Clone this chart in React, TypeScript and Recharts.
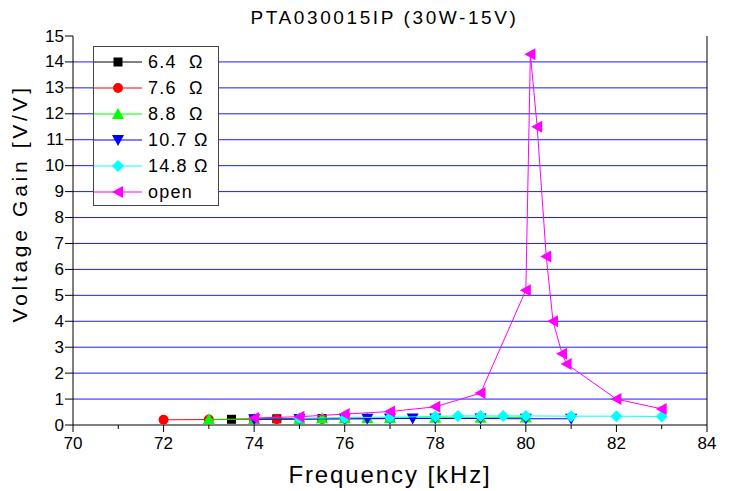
import { ScatterChart, Scatter, XAxis, YAxis, ReferenceLine, Legend } from "recharts";

// measured gain vs frequency, one pair of arrays per load
const freq64 = [73.5, 74, 74.5, 75, 75.5, 76];
const gain64 = [0.22, 0.23, 0.24, 0.24, 0.25, 0.25];

const freq76 = [72, 73, 74, 74.5, 75, 75.5, 76, 77];
const gain76 = [0.2, 0.21, 0.22, 0.22, 0.23, 0.23, 0.24, 0.25];

const freq88 = [73, 74, 75, 75.5, 76, 76.5, 77, 78, 79, 80];
const gain88 = [0.22, 0.23, 0.24, 0.26, 0.26, 0.27, 0.27, 0.28, 0.28, 0.29];

const freq107 = [74, 75, 76, 76.5, 77, 77.5, 78, 79, 80, 81];
const gain107 = [0.22, 0.23, 0.24, 0.24, 0.25, 0.25, 0.25, 0.25, 0.24, 0.24];

const freq148 = [75, 76, 77, 78, 78.5, 79, 79.5, 80, 81, 82, 83];
const gain148 = [0.26, 0.28, 0.3, 0.33, 0.35, 0.35, 0.35, 0.35, 0.34, 0.34, 0.33];

const freqOpen = [74, 75, 76, 77, 78, 79, 80, 80.1, 80.25, 80.45, 80.6, 80.8, 80.9, 82, 83];
const gainOpen = [0.27, 0.32, 0.42, 0.52, 0.7, 1.23, 5.2, 14.3, 11.5, 6.5, 4.0, 2.75, 2.35, 1.0, 0.62];

const xTicks = [70, 71, 72, 73, 74, 75, 76, 77, 78, 79, 80, 81, 82, 83, 84];
const topTicks = [70, 71.4, 72.8, 74.2, 75.6, 77, 78.4, 79.8, 81.2, 82.6, 84];
const yTicks = [0, 0.5, 1, 1.5, 2, 2.5, 3, 3.5, 4, 4.5, 5, 5.5, 6, 6.5, 7, 7.5, 8, 8.5, 9, 9.5, 10, 10.5, 11, 11.5, 12, 12.5, 13, 13.5, 14, 14.5, 15];
const gridLines = [1, 2, 3, 4, 5, 6, 7, 8, 9, 10, 11, 12, 13, 14];

const FONT = '"Liberation Sans", Arial, sans-serif';

const series = [
  { name: "6.4  Ω", color: "#000000", kind: "square", freq: freq64, gain: gain64 },
  { name: "7.6  Ω", color: "#ff0000", kind: "circle", freq: freq76, gain: gain76 },
  { name: "8.8  Ω", color: "#00ff00", kind: "up", freq: freq88, gain: gain88 },
  { name: "10.7 Ω", color: "#0000ff", kind: "down", freq: freq107, gain: gain107 },
  { name: "14.8 Ω", color: "#00ffff", kind: "diamond", freq: freq148, gain: gain148 },
  { name: "open", color: "#ff00ff", kind: "left", freq: freqOpen, gain: gainOpen },
];

function Marker({ kind, cx, cy, color }: { kind: string; cx: number; cy: number; color: string }) {
  if (cx == null || cy == null) return null;
  switch (kind) {
    case "square":
      return <rect x={cx - 4.5} y={cy - 4.5} width={9} height={9} fill={color} />;
    case "circle":
      return <circle cx={cx} cy={cy} r={5} fill={color} />;
    case "up":
      return <polygon points={`${cx},${cy - 6} ${cx + 6},${cy + 5} ${cx - 6},${cy + 5}`} fill={color} />;
    case "down":
      return <polygon points={`${cx},${cy + 6} ${cx + 6},${cy - 5} ${cx - 6},${cy - 5}`} fill={color} />;
    case "diamond":
      return <polygon points={`${cx},${cy - 6} ${cx + 6},${cy} ${cx},${cy + 6} ${cx - 6},${cy}`} fill={color} />;
    default:
      return <polygon points={`${cx - 6},${cy} ${cx + 5},${cy - 6} ${cx + 5},${cy + 6}`} fill={color} />;
  }
}

const BottomTick = (props: any) => {
  const { x, y, payload } = props;
  const major = payload.value % 2 === 0;
  return (
    <g>
      <line x1={x} x2={x} y1={y} y2={y + (major ? 7 : 4)} stroke="#000" />
      {major && (
        <text x={x} y={y + 18} textAnchor="middle" dominantBaseline="central" fontSize={17} fontFamily={FONT} fill="#000">
          {payload.value}
        </text>
      )}
    </g>
  );
};

const TopTick = (props: any) => {
  const { x, y, index } = props;
  return <line x1={x} x2={x} y1={y} y2={y + (index % 2 === 0 ? 8 : 4)} stroke="#000" />;
};

const LeftTick = (props: any) => {
  const { x, y, payload } = props;
  const major = payload.value % 1 === 0;
  return (
    <g>
      <line x1={x} x2={x - (major ? 8 : 4)} y1={y} y2={y} stroke="#000" />
      {major && (
        <text x={x - 9} y={y} textAnchor="end" dominantBaseline="central" fontSize={17} fontFamily={FONT} fill="#000">
          {payload.value}
        </text>
      )}
    </g>
  );
};

const RightTick = (props: any) => {
  const { x, y, payload } = props;
  const major = payload.value % 1 === 0;
  return (
    <g>
      <line x1={x} x2={x - (major ? 8 : 5)} y1={y} y2={y} stroke="#000" />
      {major && (
        <text x={x + 5} y={y} textAnchor="start" dominantBaseline="central" fontSize={17} fontFamily={FONT} fill="#000">
          {payload.value}
        </text>
      )}
    </g>
  );
};

const YLabel = (props: any) => {
  const vb = props.viewBox || { x: 0, y: 36, width: 73, height: 389 };
  const cx = vb.x + 20;
  const cy = vb.y + vb.height * 0.43;
  return (
    <text x={cx} y={cy} transform={`rotate(-90 ${cx} ${cy})`} textAnchor="middle" dominantBaseline="central" fontSize={21} fontFamily={FONT} letterSpacing={3.7} fill="#000">
      Voltage Gain [V/V]
    </text>
  );
};

const LegendBox = () => (
  <div style={{ width: 126, height: 160, border: "1px solid #444", background: "#fff", boxSizing: "border-box" }}>
    <svg width={124} height={158}>
      {series.map((s, i) => {
        const y = 15 + i * 26;
        return (
          <g key={s.name}>
            <line x1={0} x2={48} y1={y} y2={y} stroke={s.color} />
            <Marker kind={s.kind} cx={24} cy={y} color={s.color} />
            <text x={54} y={y} dominantBaseline="central" fontSize={18} fontFamily={FONT} letterSpacing={1.2} fill="#000" style={{ whiteSpace: "pre" }}>
              {s.name}
            </text>
          </g>
        );
      })}
    </svg>
  </div>
);

export default function App() {
  return (
    <div style={{ position: "absolute", left: 0, top: 0, width: 741, height: 491, background: "#fff" }}>
      <div style={{ position: "absolute", left: 14, top: 7, width: 741, textAlign: "center", fontFamily: FONT, fontSize: 19, letterSpacing: 2.6, color: "#000" }}>
        PTA030015IP (30W-15V)
      </div>
      <ScatterChart width={741} height={491} margin={{ top: 36, right: 0, bottom: 0, left: 0 }}>
        <XAxis xAxisId="t" orientation="top" type="number" domain={[70, 84]} ticks={topTicks} height={0} tickSize={0} tickMargin={0} tick={<TopTick />} stroke="#000" allowDataOverflow />
        <XAxis
          xAxisId="b"
          type="number"
          dataKey="f"
          domain={[70, 84]}
          ticks={xTicks}
          height={66}
          tickSize={0}
          tickMargin={0}
          tick={<BottomTick />}
          stroke="#000"
          label={{ value: "Frequency [kHz]", position: "insideBottom", offset: 8, fontSize: 24, fontFamily: FONT, fill: "#000", letterSpacing: 1.9 }}
        />
        <YAxis yAxisId="l" type="number" dataKey="v" domain={[0, 15]} ticks={yTicks} width={73} tickSize={0} tickMargin={0} tick={<LeftTick />} stroke="#000" label={{ content: YLabel }} />
        <YAxis yAxisId="r" orientation="right" type="number" domain={[0, 15]} ticks={yTicks} width={34} tickSize={0} tickMargin={0} tick={<RightTick />} stroke="#000" />
        {gridLines.map((g) => (
          <ReferenceLine key={g} y={g} yAxisId="l" xAxisId="b" stroke="#1a1aff" strokeWidth={1} />
        ))}
        <Legend layout="vertical" align="center" verticalAlign="middle" wrapperStyle={{ position: "absolute", left: 93, top: 46, width: 126 }} content={() => <LegendBox />} />
        {series.map((s) => (
          <Scatter
            key={s.name}
            name={s.name}
            xAxisId="b"
            yAxisId="l"
            data={s.freq.map((f, i) => ({ f, v: s.gain[i] }))}
            fill={s.color}
            line={{ stroke: s.color, strokeWidth: 1 }}
            shape={(p: any) => <Marker kind={s.kind} cx={p.cx} cy={p.cy} color={s.color} />}
            isAnimationActive={false}
          />
        ))}
      </ScatterChart>
    </div>
  );
}
